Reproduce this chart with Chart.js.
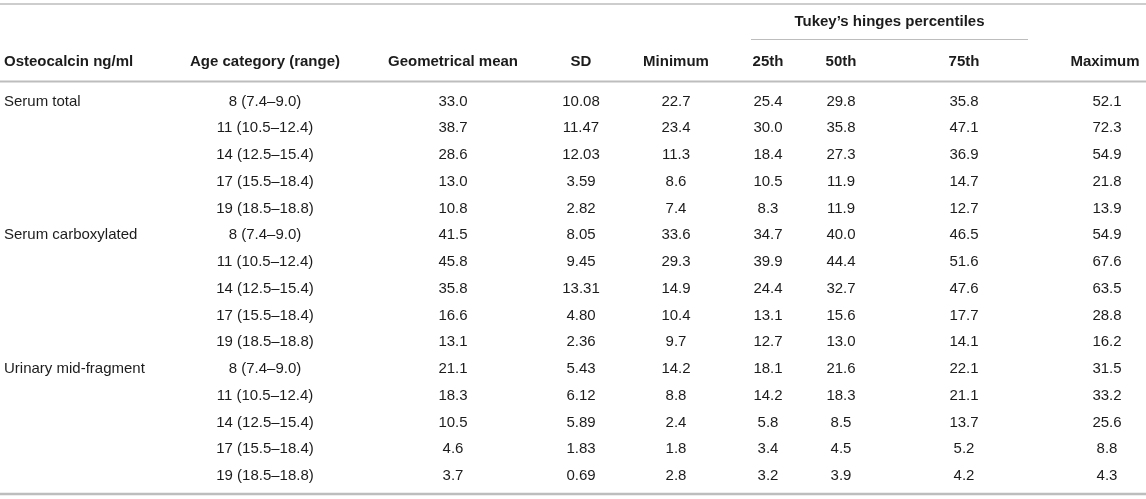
<!DOCTYPE html>
<html>
<head>
<meta charset="utf-8">
<script src="https://cdn.jsdelivr.net/npm/chart.js@4"></script>
<style>
html,body{margin:0;padding:0;background:#fff;}
#wrap{width:1146px;height:499px;}
</style>
</head>
<body>
<div id="wrap"><canvas id="c" width="1146" height="499"></canvas></div>
<script>
// ---- data ----
const groups = ["Serum total", "Serum carboxylated", "Urinary mid-fragment"];
const ageCategories = ["8 (7.4–9.0)", "11 (10.5–12.4)", "14 (12.5–15.4)", "17 (15.5–18.4)", "19 (18.5–18.8)"];
const columnHeaders = ["Osteocalcin ng/ml", "Age category (range)", "Geometrical mean", "SD", "Minimum", "25th", "50th", "75th", "Maximum"];
const spanHeader = "Tukey’s hinges percentiles";
const geoMean = [33.0, 38.7, 28.6, 13.0, 10.8, 41.5, 45.8, 35.8, 16.6, 13.1, 21.1, 18.3, 10.5, 4.6, 3.7];
const sd      = [10.08, 11.47, 12.03, 3.59, 2.82, 8.05, 9.45, 13.31, 4.80, 2.36, 5.43, 6.12, 5.89, 1.83, 0.69];
const minimum = [22.7, 23.4, 11.3, 8.6, 7.4, 33.6, 29.3, 14.9, 10.4, 9.7, 14.2, 8.8, 2.4, 1.8, 2.8];
const p25     = [25.4, 30.0, 18.4, 10.5, 8.3, 34.7, 39.9, 24.4, 13.1, 12.7, 18.1, 14.2, 5.8, 3.4, 3.2];
const p50     = [29.8, 35.8, 27.3, 11.9, 11.9, 40.0, 44.4, 32.7, 15.6, 13.0, 21.6, 18.3, 8.5, 4.5, 3.9];
const p75     = [35.8, 47.1, 36.9, 14.7, 12.7, 46.5, 51.6, 47.6, 17.7, 14.1, 22.1, 21.1, 13.7, 5.2, 4.2];
const maximum = [52.1, 72.3, 54.9, 21.8, 13.9, 54.9, 67.6, 63.5, 28.8, 16.2, 31.5, 33.2, 25.6, 8.8, 4.3];

// ---- layout (not data) ----
const colX = [4, 265, 453, 581, 676, 768, 841, 964, 1107];
const headerColX = [4, 265, 453, 581, 676, 768, 841, 964, 1105];
const colAlign = ["left", "center", "center", "center", "center", "center", "center", "center", "center"];
const rowPx0 = 101.5, rowStep = 26.75, H = 499;
const toRow = px => (px - rowPx0) / rowStep;
const headerRowY = toRow(61.5);
const spanRowY = toRow(21.5);
const spanRule = {x0: 751, x1: 1028, y: toRow(39.5)};
const rules = [
  {y: toRow(4), w: 1.5},
  {y: toRow(81.5), w: 2},
  {y: toRow(494), w: 2.5}
];
const FONT = '"Liberation Sans", Arial, Helvetica, sans-serif';
const TEXT = '#1c1c1c';
const RULE = '#bdbdbd';

// Build rows from data arrays
const nRows = geoMean.length;
const rowTexts = [];
for (let i = 0; i < nRows; i++) {
  const g = i % ageCategories.length === 0 ? groups[Math.floor(i / ageCategories.length)] : "";
  rowTexts.push([
    g,
    ageCategories[i % ageCategories.length],
    geoMean[i].toFixed(1),
    sd[i].toFixed(2),
    minimum[i].toFixed(1),
    p25[i].toFixed(1),
    p50[i].toFixed(1),
    p75[i].toFixed(1),
    maximum[i].toFixed(1)
  ]);
}

// one dataset per column; each point is a table cell
const datasets = columnHeaders.map((h, j) => ({
  label: h,
  data: rowTexts.map((r, i) => ({x: colX[j], y: i, text: r[j]})),
  pointRadius: 0,
  pointHoverRadius: 0,
  showLine: false
}));

const tablePlugin = {
  id: 'tablePlugin',
  afterDatasetsDraw(chart) {
    const ctx = chart.ctx;
    const xs = chart.scales.x, ys = chart.scales.y;
    ctx.save();
    // rules
    ctx.strokeStyle = RULE;
    rules.forEach(r => {
      const y = ys.getPixelForValue(r.y);
      ctx.lineWidth = r.w;
      ctx.beginPath();
      ctx.moveTo(xs.getPixelForValue(xs.min), y);
      ctx.lineTo(xs.getPixelForValue(xs.max), y);
      ctx.stroke();
    });
    ctx.lineWidth = 1.2;
    ctx.beginPath();
    const sy = ys.getPixelForValue(spanRule.y);
    ctx.moveTo(xs.getPixelForValue(spanRule.x0), sy);
    ctx.lineTo(xs.getPixelForValue(spanRule.x1), sy);
    ctx.stroke();

    ctx.fillStyle = TEXT;
    ctx.textBaseline = 'middle';
    // span header
    ctx.font = 'bold 15px ' + FONT;
    ctx.textAlign = 'center';
    ctx.fillText(spanHeader, xs.getPixelForValue((spanRule.x0 + spanRule.x1) / 2), ys.getPixelForValue(spanRowY));
    // column headers
    columnHeaders.forEach((h, j) => {
      ctx.textAlign = colAlign[j];
      ctx.fillText(h, xs.getPixelForValue(headerColX[j]), ys.getPixelForValue(headerRowY));
    });
    // cells
    ctx.font = '15px ' + FONT;
    chart.data.datasets.forEach((ds, j) => {
      const meta = chart.getDatasetMeta(j);
      ctx.textAlign = colAlign[j];
      meta.data.forEach((pt, i) => {
        const t = ds.data[i].text;
        if (t) ctx.fillText(t, pt.x, pt.y);
      });
    });
    ctx.restore();
  }
};

new Chart(document.getElementById('c'), {
  type: 'scatter',
  data: {datasets},
  options: {
    responsive: false,
    animation: false,
    events: [],
    layout: {padding: 0},
    plugins: {legend: {display: false}, tooltip: {enabled: false}},
    scales: {
      x: {type: 'linear', display: false, min: 0, max: 1146},
      y: {type: 'linear', display: false, reverse: true, min: toRow(0), max: toRow(H)}
    }
  },
  plugins: [tablePlugin]
});
</script>
</body>
</html>
